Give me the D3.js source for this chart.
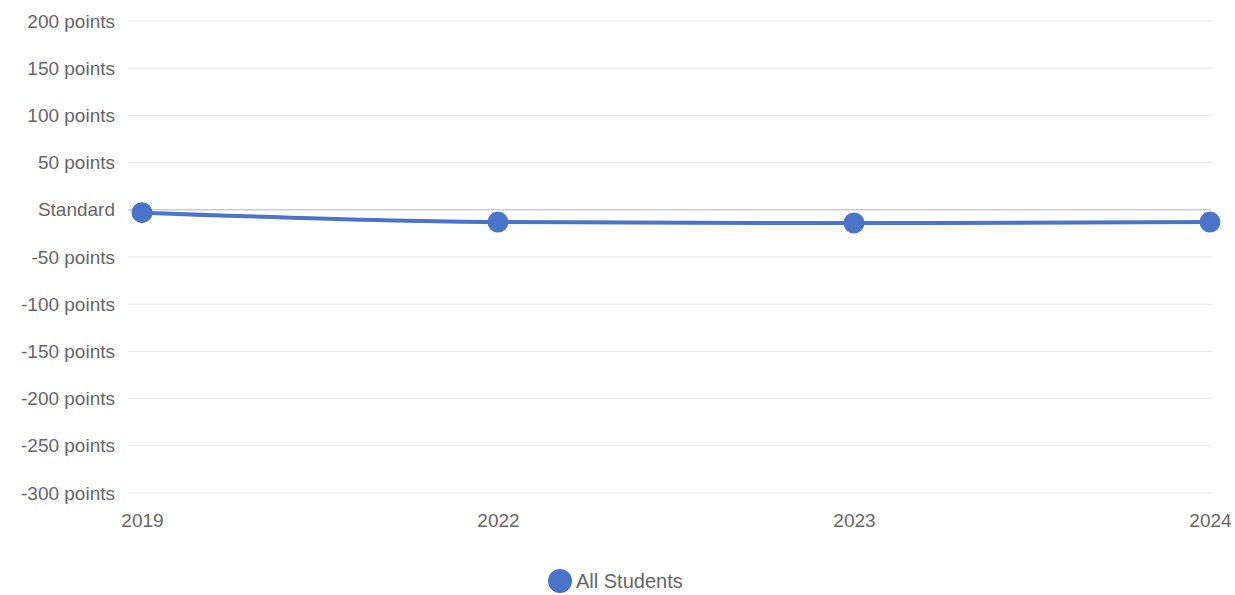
<!DOCTYPE html>
<html>
<head>
<meta charset="utf-8">
<script src="https://cdn.jsdelivr.net/npm/d3@7"></script>
<style>
  body { margin: 0; background: #fff; }
  text { font-family: "Liberation Sans", Arial, sans-serif; }
</style>
</head>
<body>
<div id="chart"></div>
<script>
const years = ['2019', '2022', '2023', '2024'];
const allStudents = [-3, -13, -14, -13];
const yTicks = [200, 150, 100, 50, 0, -50, -100, -150, -200, -250, -300];
const seriesName = 'All Students';

const width = 1235, height = 595;
const margin = { top: 21, right: 25, bottom: 103, left: 142 };

const svg = d3.select('#chart')
  .append('svg')
  .attr('width', width)
  .attr('height', height);

const x = d3.scalePoint()
  .domain(years)
  .range([margin.left, width - margin.right]);

const y = d3.scaleLinear()
  .domain([-300, 200])
  .range([height - margin.bottom + 1, margin.top]);

// gridlines
svg.append('g')
  .selectAll('line')
  .data(yTicks)
  .enter()
  .append('line')
  .attr('x1', 128)
  .attr('x2', 1212)
  .attr('y1', d => y(d))
  .attr('y2', d => y(d))
  .attr('stroke', d => d === 0 ? '#cccccc' : '#e8e8e8')
  .attr('stroke-width', d => d === 0 ? 1.5 : 1);

// y axis labels
svg.append('g')
  .attr('transform', `translate(115, 0)`)
  .call(d3.axisLeft(y).tickValues(yTicks).tickSize(0)
    .tickFormat(d => d === 0 ? 'Standard' : `${d} points`))
  .call(g => g.select('.domain').remove())
  .selectAll('text')
  .attr('x', 0)
  .attr('font-size', '19px')
  .attr('fill', '#666')
  .attr('font-family', '"Liberation Sans", Arial, sans-serif');

// x axis labels
svg.append('g')
  .attr('transform', `translate(0, 510)`)
  .call(d3.axisBottom(x).tickSize(0))
  .call(g => g.select('.domain').remove())
  .selectAll('text')
  .attr('font-size', '19px')
  .attr('fill', '#666')
  .attr('font-family', '"Liberation Sans", Arial, sans-serif');

const color = '#4a74c8';

const line = d3.line()
  .x((d, i) => x(years[i]))
  .y(d => y(d))
  .curve(d3.curveMonotoneX);

svg.append('path')
  .datum(allStudents)
  .attr('d', line)
  .attr('fill', 'none')
  .attr('stroke', color)
  .attr('stroke-width', 4);

svg.selectAll('.dot')
  .data(allStudents)
  .enter()
  .append('circle')
  .attr('cx', (d, i) => x(years[i]))
  .attr('cy', d => y(d))
  .attr('r', 10.5)
  .attr('fill', color);

// legend
const legend = svg.append('g').attr('transform', 'translate(560, 581)');
legend.append('circle').attr('r', 12).attr('fill', color);
legend.append('text')
  .attr('x', 16)
  .attr('y', 7)
  .attr('font-size', '20px')
  .attr('fill', '#666')
  .text(seriesName);
</script>
</body>
</html>
